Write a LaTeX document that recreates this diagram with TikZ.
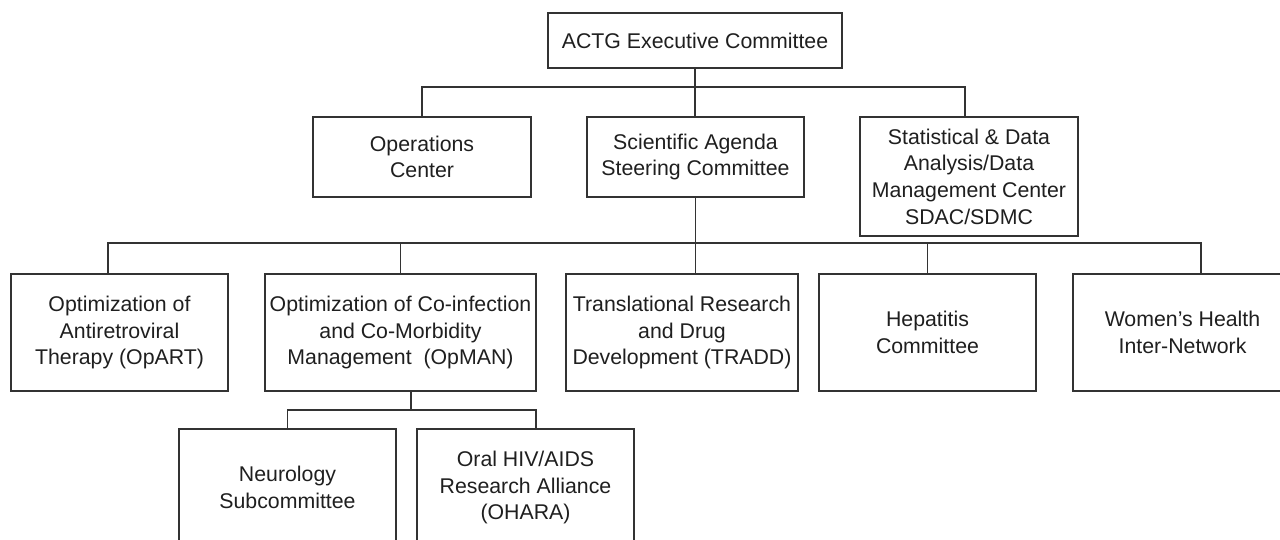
\documentclass[tikz,border=0pt]{standalone}
\usepackage{fontspec}
\setmainfont{Liberation Sans}
\begin{document}
\begin{tikzpicture}[x=0.5pt,y=-0.5pt,
  line/.style={draw=black!80,line width=0.65pt},
  orgbox/.style={line,fill=white,inner sep=0pt,align=center,text=black!88,
    font=\fontsize{10.65pt}{13.35pt}\selectfont},
  conn/.style={line}]
\useasboundingbox (0,0) rectangle (1280,540);
\clip (0,0) rectangle (1280,540);
% level 0
\node[orgbox,minimum width=147pt,minimum height=27.5pt] (top) at (695,40.5) {ACTG Executive Committee};
% level 1
\node[orgbox,minimum width=109pt,minimum height=40pt] (ops) at (422,157) {Operations\\Center};
\node[orgbox,minimum width=108.5pt,minimum height=40pt] (sci) at (695.5,157) {Scientific Agenda\\Steering Committee};
\node[orgbox,minimum width=109pt,minimum height=59.5pt] (sdac) at (969,176.5) {Statistical \& Data\\Analysis/Data\\Management Center\\SDAC/SDMC};
% level 2
\node[orgbox,minimum width=108.5pt,minimum height=58.5pt] (opart) at (119.5,332.5) {Optimization of\\Antiretroviral\\Therapy (OpART)};
\node[orgbox,minimum width=135.5pt,minimum height=58.5pt] (opman) at (400.5,332.5) {Optimization of Co-infection\\and Co-Morbidity\\Management~~(OpMAN)};
\node[orgbox,minimum width=116pt,minimum height=58.5pt] (tradd) at (682,332.5) {Translational Research\\and Drug\\Development (TRADD)};
\node[orgbox,minimum width=108.5pt,minimum height=58.5pt] (hep) at (927.5,332.5) {Hepatitis\\Committee};
\node[orgbox,minimum width=109.5pt,minimum height=58.5pt] (women) at (1182.5,332.5) {Women’s Health\\Inter-Network};
% level 3
\node[orgbox,minimum width=108.5pt,minimum height=58.5pt] (neuro) at (287.5,487.5) {Neurology\\Subcommittee};
\node[orgbox,minimum width=108.5pt,minimum height=58.5pt] (ohara) at (525.5,487.5) {Oral HIV/AIDS\\Research Alliance\\(OHARA)};
% bus coordinates
\coordinate (j1) at (695,87);
\coordinate (j2) at (695,243);
\coordinate (j3) at (411,410);
% connectors level 0 -> 1
\draw[conn] (top.south) -- (top.south |- sci.north);
\draw[conn] (ops.north) -- (ops.north |- j1) -- ([xshift=-2pt]sdac.north |- j1) -- ([xshift=-2pt]sdac.north);
% connectors level 1 -> 2
\draw[conn] (sci.south) -- (sci.south |- tradd.north);
\draw[conn] ([xshift=-5.75pt]opart.north) -- ([xshift=-5.75pt]opart.north |- j2) -- ([xshift=9.25pt]women.north |- j2) -- ([xshift=9.25pt]women.north);
\draw[conn] (opman.north) -- (opman.north |- j2);
\draw[conn] (hep.north) -- (hep.north |- j2);
% connectors level 2 -> 3
\draw[conn] ([xshift=5.25pt]opman.south) -- (j3);
\draw[conn] (neuro.north) -- (neuro.north |- j3) -- ([xshift=5.25pt]ohara.north |- j3) -- ([xshift=5.25pt]ohara.north);
\end{tikzpicture}
\end{document}
